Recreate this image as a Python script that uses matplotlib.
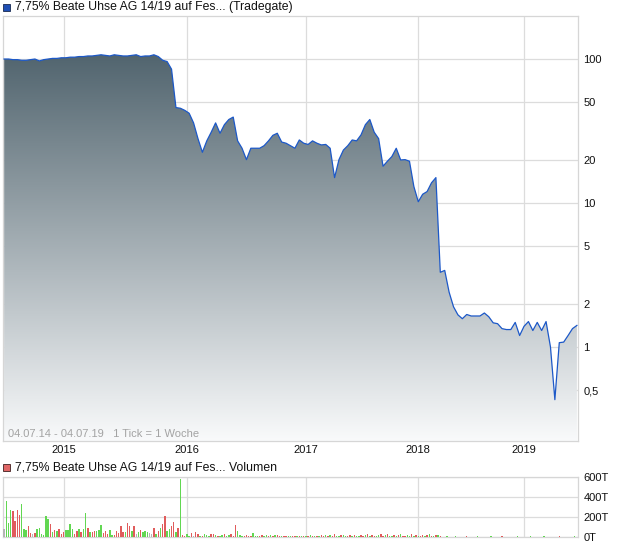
import matplotlib
matplotlib.use("Agg")
import matplotlib.pyplot as plt
import numpy as np
from matplotlib.colors import LinearSegmentedColormap
from matplotlib.patches import Rectangle
from matplotlib.ticker import NullLocator

plt.rcParams["font.family"] = ["Liberation Sans", "DejaVu Sans"]

# ---- data -------------------------------------------------------------
title_price = "7,75% Beate Uhse AG 14/19 auf Fes... (Tradegate)"
title_volume = "7,75% Beate Uhse AG 14/19 auf Fes... Volumen"
period_note = "04.07.14 - 04.07.19   1 Tick = 1 Woche"

# bi-weekly closing prices (in %), 04.07.2014 - 04.07.2019
price = [100, 100, 99, 99, 98, 98, 99, 100, 97, 99,
         100, 101, 101, 102, 102, 103, 103, 104, 104, 105,
         105, 106, 107, 106, 105, 107, 106, 105, 105, 106,
         107, 104, 105, 105, 107, 104, 98, 96, 85, 46,
         45.5, 44, 42, 36, 28, 22.5, 27, 31, 36, 30.5,
         35, 38, 39.5, 27, 24, 20, 24, 24, 24, 25,
         27, 29.5, 30.5, 26.5, 26, 25, 24, 27.4, 26, 25.5,
         27, 26, 25.3, 25.5, 24, 15, 20, 23.3, 25, 27.4,
         27, 29.7, 35, 38, 31, 28, 18, 19.5, 21, 24,
         19.9, 20, 19.5, 13, 10.2, 11.5, 12, 13.8, 15, 3.3,
         3.4, 2.4, 1.9, 1.67, 1.57, 1.68, 1.64, 1.64, 1.64, 1.72,
         1.62, 1.47, 1.45, 1.34, 1.32, 1.32, 1.48, 1.2, 1.39, 1.5,
         1.3, 1.48, 1.3, 1.5, 1.0, 0.43, 1.07, 1.08, 1.2, 1.34,
         1.41]

# weekly volume in thousands (T)
volume = [77, 360, 140, 267, 260, 157, 267, 217, 330, 77,
          67, 107, 40, 27, 40, 83, 93, 27, 20, 207,
          183, 127, 50, 67, 57, 77, 33, 50, 67, 73,
          127, 83, 30, 60, 83, 50, 77, 240, 93, 50,
          50, 57, 60, 73, 117, 40, 60, 33, 67, 17,
          20, 60, 40, 107, 50, 50, 140, 110, 60, 107,
          27, 50, 67, 50, 57, 50, 40, 27, 90, 30,
          57, 93, 127, 207, 60, 83, 107, 150, 50, 93,
          577, 17, 13, 27, 13, 40, 10, 50, 27, 10,
          10, 33, 17, 10, 27, 27, 17, 13, 13, 20,
          33, 10, 20, 27, 13, 117, 60, 17, 13, 13,
          17, 13, 10, 40, 10, 13, 13, 20, 13, 17,
          13, 17, 13, 17, 20, 10, 10, 10, 10, 10,
          13, 13, 10, 13, 10, 13, 10, 13, 10, 17,
          10, 13, 10, 13, 20, 13, 17, 10, 20, 13,
          27, 10, 13, 17, 20, 13, 10, 17, 13, 20,
          13, 10, 17, 13, 20, 27, 13, 17, 13, 10,
          20, 27, 13, 17, 27, 13, 10, 17, 13, 20,
          27, 13, 10, 17, 13, 27, 13, 17, 10, 13,
          20, 13, 17, 27, 13, 10, 17, 20, 13, 5,
          4, 6, 3, 5, 4, 6, 5, 3, 4, 5,
          6, 4, 5, 3, 4, 6, 5, 4, 3, 5,
          4, 6, 5, 4, 3, 5, 6, 4, 5, 4,
          3, 5, 4, 6, 5, 4, 5, 3, 4, 6,
          5, 4, 3, 5, 4, 6, 5, 4, 5, 3,
          4, 5, 6, 4, 5, 4, 3, 5, 4, 6,
          5]

# direction of each week: G = up, R = down, N = unchanged
direction = ("NGGGRRRRGGGRRNRGGGGGGRGRGRRRGGGGRRGRGGRGRRGGGRRRGGRRRRRGRRGRNGRGGGNNRG"
             "RGRRGGRRGRGRRGGRNRRGRGGGRRGRGGRGGRRRGGGRRRRGGGRRGGRGRGRRGRRGGRRGRGRG"
             "RGRGRGRRGRGRRGGRGGRRGRGGRRGRGRRGGRRGRGGRGRGRRGGRGRGRRGRGRGRGRGRGRGRG"
             "RGRGRGRGRGRGRGRGRGRGRGRGRGRGRGRGRGRGRGRGRGRGRGRGRGRGRGRGRGRGRGRGRGRG")

year_labels = ["2015", "2016", "2017", "2018", "2019"]
year_weeks = [27, 83, 137, 188, 236]

price_ticks = [0.5, 1, 2, 5, 10, 20, 50, 100]
price_tick_labels = ["0,5", "1", "2", "5", "10", "20", "50", "100"]
volume_ticks = [0, 200, 400, 600]
volume_tick_labels = ["0T", "200T", "400T", "600T"]

# ---- figure -----------------------------------------------------------
W, H = 620, 546
fig = plt.figure(figsize=(W / 100, H / 100), dpi=100)
grid_c = "#dcdcdc"
spine_c = "#d6d6d6"


def px_axes(left, top, right, bottom):
    return fig.add_axes([left / W, 1 - bottom / H, (right - left) / W, (bottom - top) / H])


# price panel
ax = px_axes(3, 16, 578, 441)
ax.set_yscale("log")
weeks_price = np.arange(len(price)) * 2
fill = ax.fill_between(weeks_price, price, 1e-3, color="none", lw=0)
grad = np.linspace(0, 1, 256).reshape(-1, 1)
cmap = LinearSegmentedColormap.from_list("slate", ["#415661", "#f9fafb"])
im = ax.imshow(grad, cmap=cmap, extent=[0, 1, 0, 1], transform=ax.transAxes,
               aspect="auto", origin="upper", zorder=1, interpolation="bilinear")
im.set_clip_path(fill.get_paths()[0], transform=ax.transData)
ax.plot(weeks_price, price, color="#1c58c8", lw=0.9, zorder=3)

ax.set_xlim(-0.5, 260.5)
ax.set_ylim(0.222, 199)
ax.yaxis.tick_right()
ax.set_yticks(price_ticks)
ax.set_yticklabels(price_tick_labels)
ax.yaxis.set_minor_locator(NullLocator())
ax.set_xticks(year_weeks)
ax.set_xticklabels(year_labels)
ax.tick_params(axis="both", length=0, labelsize=8, colors="#111111")
ax.tick_params(axis="y", pad=4)
ax.tick_params(axis="x", pad=3)
ax.set_axisbelow(True)
ax.grid(True, color=grid_c, lw=0.9)
for s in ax.spines.values():
    s.set_color(spine_c)
    s.set_linewidth(0.9)

fig.text(8 / W, 1 - 434 / H, period_note, color="#a3a3a3", fontsize=8, va="center")

# legend entries
fig.add_artist(Rectangle((3 / W, 1 - 10.5 / H), 7 / W, 7 / H, transform=fig.transFigure,
                         fc="#1f4fb4", ec="#1a2a50", lw=0.6))
fig.text(15 / W, 1 - 7 / H, title_price, fontsize=8.8, va="center", color="#111111")
fig.add_artist(Rectangle((3 / W, 1 - 470.5 / H), 7 / W, 7 / H, transform=fig.transFigure,
                         fc="#e06666", ec="#402020", lw=0.6))
fig.text(15 / W, 1 - 467 / H, title_volume, fontsize=8.8, va="center", color="#111111")

# volume panel
vx = px_axes(3, 477, 578, 537)
colors = {"G": "#62d752", "R": "#e05c5c", "N": "#b4b4b4"}
weeks_vol = np.arange(len(volume))
vx.bar(weeks_vol, volume, width=0.65, color=[colors[c] for c in direction[:len(volume)]],
       zorder=3, lw=0)
vx.set_xlim(-0.5, 260.5)
vx.set_ylim(0, 600)
vx.yaxis.tick_right()
vx.set_yticks(volume_ticks)
vx.set_yticklabels(volume_tick_labels)
vx.set_xticks(year_weeks)
vx.set_xticklabels([])
vx.tick_params(axis="both", length=0, labelsize=8, colors="#111111")
vx.tick_params(axis="y", pad=4)
vx.set_axisbelow(True)
vx.grid(True, color=grid_c, lw=0.9)
for s in vx.spines.values():
    s.set_color(spine_c)
    s.set_linewidth(0.9)

fig.savefig("out.png", dpi=100)
